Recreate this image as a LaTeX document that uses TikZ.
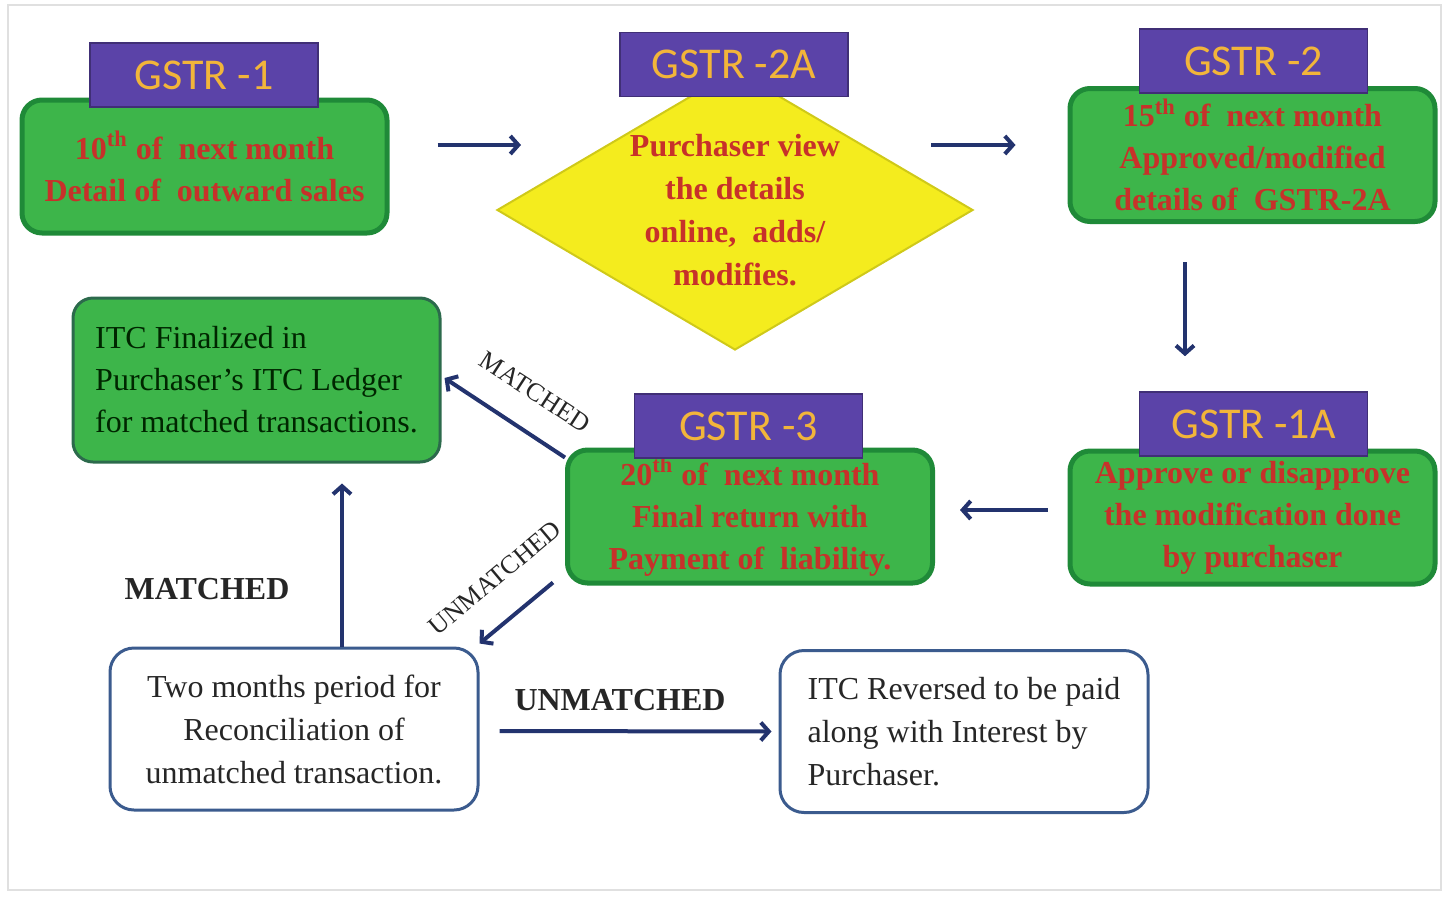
\documentclass[tikz,border=0pt]{standalone}
\usepackage{fontspec}
\setmainfont{Liberation Serif}
\newfontfamily\tagfont{Carlito}
\usetikzlibrary{shapes.geometric,arrows.meta,calc}
\definecolor{boxgreen}{HTML}{3DB54A}
\definecolor{gborder}{HTML}{1F8A38}
\definecolor{finborder}{HTML}{2C6A4C}
\definecolor{tagpurple}{HTML}{5B43A8}
\definecolor{tagorange}{HTML}{F2B53A}
\definecolor{txtred}{HTML}{C7312A}
\definecolor{diayellow}{HTML}{F4EC1E}
\definecolor{wborder}{HTML}{3B5B8E}
\definecolor{arrowblue}{HTML}{23336E}

\begin{document}
\begin{tikzpicture}[x=0.5pt,y=-0.5pt,
    gbox/.style={draw=gborder,line width=2.5pt,fill=boxgreen,rounded corners=10pt,
      minimum width=182.5pt,minimum height=66.5pt,align=center,text=txtred,
      font=\fontsize{16}{21}\selectfont\bfseries},
    tag/.style={fill=tagpurple,draw=tagpurple!70!black,line width=0.8pt,
      minimum width=114pt,minimum height=32pt,text=tagorange,
      font=\tagfont\fontsize{22}{22}\selectfont},
    wbox/.style={draw=wborder,line width=1.5pt,fill=white,rounded corners=12pt,
      minimum width=184pt,minimum height=81pt,text=black!85,
      font=\fontsize{16}{21.5}\selectfont},
    flow/.style={draw=arrowblue,line width=2pt,-{Straight Barb[length=4pt,width=9pt]}},
    lab/.style={text=black!85,font=\fontsize{13}{13}\selectfont},
    biglab/.style={text=black!85,font=\fontsize{16}{16}\selectfont\bfseries},
   ]
   \useasboundingbox (0,0) rectangle (1447,896);
   \draw[black!12,line width=0.6pt] (8,5) rectangle (1441,890);
   % returns in the top row
   \node[gbox] (g1) at (204.5,166.5) {10\textsuperscript{th} of~ next month\\Detail of~ outward sales};
   \node[tag] (t1) at (204,75) {GSTR -1};
   \node[diamond,aspect=1.7,inner sep=0pt,fill=diayellow,draw=diayellow!85!black,line width=1pt,
     minimum width=238pt,minimum height=140pt,align=center,text=txtred,
     font=\fontsize{16}{21.5}\selectfont\bfseries] (dia) at (735,210)
     {Purchaser view\\the details\\online,~ adds/\\modifies.};
   \node[tag] (t2a) at (734,64.5) {GSTR -2A};
   \node[gbox] (g2) at (1252.5,155) {15\textsuperscript{th} of~ next month\\Approved/modified\\details of~ GSTR-2A};
   \node[tag] (t2) at (1253.5,61) {GSTR -2};
   % second row
   \node[gbox] (g1a) at (1252.5,517.5) {Approve or disapprove\\the modification done\\by purchaser};
   \node[tag] (t1a) at (1253.5,424) {GSTR -1A};
   \node[gbox] (g3) at (750,516.5) {20\textsuperscript{th} of~ next month\\Final return with\\Payment of~ liability.};
   \node[tag] (t3) at (748.5,426) {GSTR -3};
   \node[gbox,draw=finborder,line width=1.5pt,minimum width=183.5pt,minimum height=82pt,
     align=left,text=black!85!green,font=\fontsize{16}{21}\selectfont] (fin) at (256.5,380)
     {ITC Finalized in\\Purchaser's ITC Ledger\\for matched transactions.};
   % reconciliation
   \node[wbox,align=center] (two) at (294,729) {Two months period for\\Reconciliation of\\unmatched transaction.};
   \node[wbox,align=left] (rev) at (964,731.5) {ITC Reversed to be paid\\along with Interest by\\Purchaser.};
   % arrows
   \draw[flow] ($(g1.east|-0,145)+(48,0)$) -- ($(dia.west|-0,145)+(25,0)$);
   \draw[flow] ($(dia.east|-0,145)+(-43,0)$) -- ($(g2.west|-0,145)+(-52,0)$);
   \draw[flow] ($(g2.south-|1185,0)+(0,38)$) -- ($(t1a.north-|1185,0)+(0,-35)$);
   \draw[flow] ($(g1a.west|-0,510)+(-20,0)$) -- ($(g3.east|-0,510)+(25,0)$);
   \draw[flow] ($(g3.north west)+(0,10)$) -- ($(fin.east)+(3,-2)$);
   \draw[flow] ($(g3.south west)+(-12,-3)$) -- ($(two.north east)+(0,-3)$);
   \draw[flow] (two.north-|342,0) -- ($(fin.south-|342,0)+(0,20)$);
   \draw[flow] ($(two.east)+(20,2)$) -- ($(rev.west)+(-7,0)$);
   \node[lab,rotate=-33] (mlab) at (535,392) {MATCHED};
   \node[lab,rotate=40] (ulab) at (495,578) {UNMATCHED};
   \node[biglab] (mtext) at (207,589) {MATCHED};
   \node[biglab] (utext) at (620,700) {UNMATCHED};
\end{tikzpicture}
\end{document}
